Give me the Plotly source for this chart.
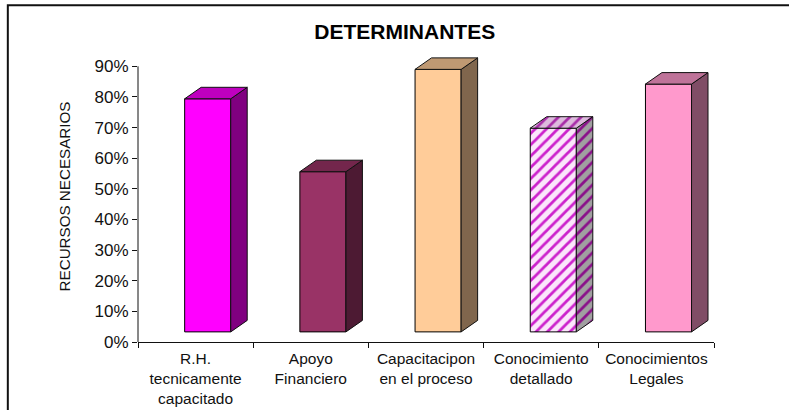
import plotly.graph_objects as go

# Chart data
categories = ["R.H.<br>tecnicamente<br>capacitado", "Apoyo<br>Financiero", "Capacitacipon<br>en el proceso",
              "Conocimiento<br>detallado", "Conocimientos<br>Legales"]
values = [0.794, 0.556, 0.89, 0.698, 0.842]
y_ticks = [0, 0.1, 0.2, 0.3, 0.4, 0.5, 0.6, 0.7, 0.8, 0.9]

front_colors = ["#FF00FF", "#993366", "#FFCC99", "#FBE6FB", "#FF99CC"]
top_colors = ["#BF00BF", "#73264C", "#BF9973", "#DDBBDD", "#BF7399"]
side_colors = ["#800080", "#4D1A33", "#80664D", "#A0A0A0", "#804D66"]

# Fake 3D geometry, in axis units
floor = 0.033
bar_width = 0.4
bar_shift = 0.105
depth_x = 0.143
depth_y = 0.0375

fig = go.Figure()

for i, value in enumerate(values):
    left = i + bar_shift - bar_width / 2
    right = i + bar_shift + bar_width / 2
    hatched = i == 3

    # Side face
    fig.add_trace(go.Scatter(
        x=[right, right + depth_x, right + depth_x, right, right],
        y=[floor, floor + depth_y, value + depth_y, value, floor],
        mode="lines",
        fill="toself",
        fillcolor=side_colors[i],
        fillpattern=dict(shape="/", fgcolor="#8A108A", bgcolor=side_colors[i], fgopacity=1, size=8, solidity=0.35) if hatched else None,
        line=dict(color="#111111", width=1),
        showlegend=False,
        hoverinfo="skip",
    ))

    # Top face
    fig.add_trace(go.Scatter(
        x=[left, left + depth_x, right + depth_x, right, left],
        y=[value, value + depth_y, value + depth_y, value, value],
        mode="lines",
        fill="toself",
        fillcolor=top_colors[i],
        fillpattern=dict(shape="/", fgcolor="#A82CA8", bgcolor=top_colors[i], fgopacity=1, size=8, solidity=0.35) if hatched else None,
        line=dict(color="#111111", width=1),
        showlegend=False,
        hoverinfo="skip",
    ))

    # Front face
    fig.add_trace(go.Bar(
        x=[i + bar_shift],
        y=[value - floor],
        base=floor,
        width=bar_width,
        marker=dict(
            color=front_colors[i],
            line=dict(color="black", width=1),
            pattern=dict(shape="/", fgcolor="#CC22CC", bgcolor=front_colors[i], fgopacity=1, size=8, solidity=0.35) if hatched else None,
        ),
        showlegend=False,
    ))

fig.update_layout(
    width=789,
    height=410,
    # y range goes past 90% so the tallest bar's top face is not clipped
    margin=dict(l=138, r=75, t=50.67, b=68),
    paper_bgcolor="white",
    plot_bgcolor="white",
    font=dict(family="Liberation Sans", color="#111111"),
    title=dict(text="<b>DETERMINANTES</b>", x=0.513, xref="container", xanchor="center", y=0.922, yanchor="middle",
               font=dict(size=21, color="black")),
    xaxis=dict(
        range=[-0.5, 4.5],
        automargin=False,
        tickmode="array",
        tickvals=list(range(len(categories))),
        ticktext=categories,
        ticks="",
        tickangle=0,
        ticklabelstandoff=2,
        tickfont=dict(size=15.5),
        showgrid=False,
        zeroline=False,
        showline=True,
        linecolor="#111111",
        minor=dict(tickmode="array", tickvals=[i - 0.5 for i in range(len(categories) + 1)],
                   ticks="outside", ticklen=5, tickcolor="#111111", showgrid=False),
    ),
    yaxis=dict(
        range=[0, 0.95],
        automargin=False,
        tickmode="array",
        tickvals=y_ticks,
        tickformat=".0%",
        ticks="outside",
        ticklen=5,
        tickcolor="#111111",
        tickfont=dict(size=17),
        showgrid=False,
        zeroline=False,
        showline=False,
        title=dict(text="RECURSOS NECESARIOS", font=dict(size=15.2), standoff=20),
    ),
)

# Value axis line stops at the 90% tick
fig.add_shape(type="line", xref="paper", yref="y", x0=0, x1=0, y0=0, y1=y_ticks[-1],
              line=dict(color="#111111", width=1))

# Chart frame, cut off by the picture on the right and at the bottom
fig.add_shape(type="rect", xref="paper", yref="paper", x0=-0.226, x1=1.2, y0=-0.3, y1=1.157,
              line=dict(color="#111111", width=2), layer="below")

fig.write_html("out.html", config={"displayModeBar": False}, post_script="document.body.style.margin='0';")
